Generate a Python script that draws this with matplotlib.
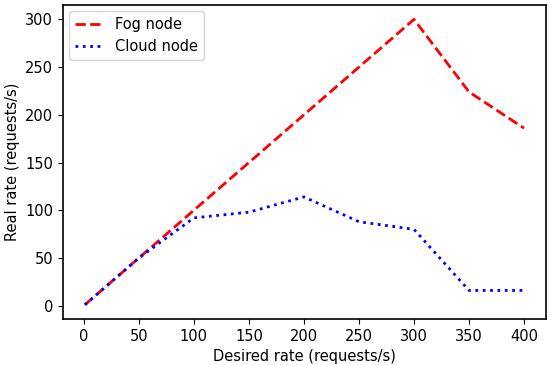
import matplotlib.pyplot as plt
import numpy as np

desired = [1, 50, 100, 150, 200, 250, 300, 350, 400]
fog_rate = [1, 50, 100, 150, 200, 250, 300, 224, 186]
cloud_rate = [1, 50, 92, 98, 114, 88, 80, 16, 16]

plt.rcParams.update({"font.size": 10.5, "axes.linewidth": 1.2})

fig = plt.figure(figsize=(5.5, 3.65), dpi=100)
ax = fig.add_subplot(111)
ax.plot(desired, fog_rate, 'r--', linewidth=2, label="Fog node")
ax.plot(desired, cloud_rate, 'b:', linewidth=2, label="Cloud node")
ax.set_xlabel("Desired rate (requests/s)")
ax.set_ylabel("Real rate (requests/s)")
ax.set_xticks(np.arange(0, 401, 50))
ax.legend(loc="upper left", borderaxespad=0.4)
plt.subplots_adjust(left=0.1145, right=0.9927, top=0.986, bottom=0.126)
plt.savefig("out.png")
